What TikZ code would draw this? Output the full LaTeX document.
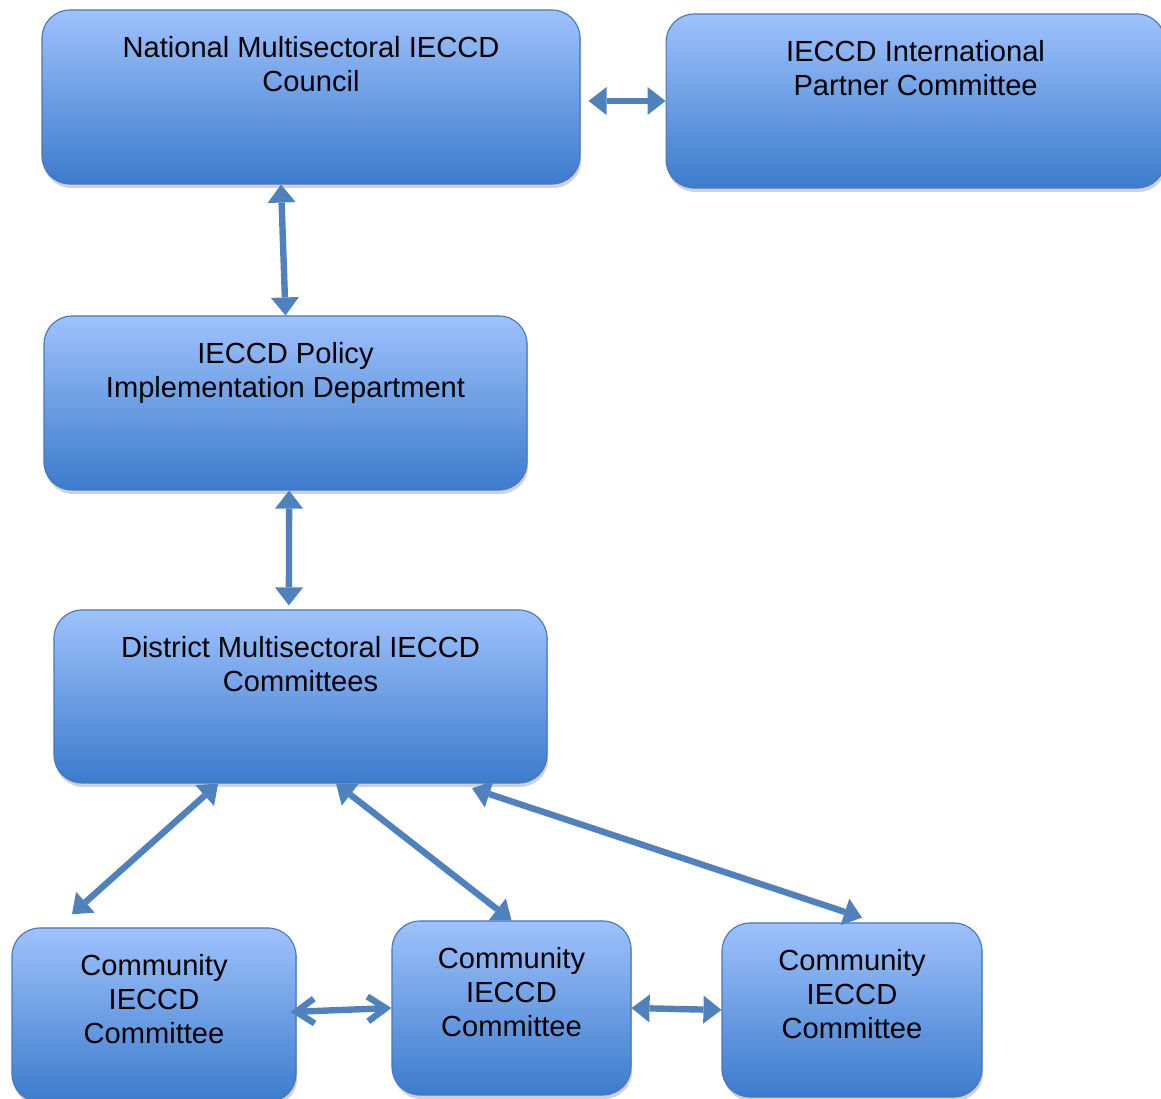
\documentclass[tikz,border=0pt]{standalone}
\usepackage{fontspec}
\setmainfont{Liberation Sans}
\usepackage{tikz}
\usetikzlibrary{arrows.meta}
\usetikzlibrary{shadows}

\definecolor{boxtop}{RGB}{158,194,252}
\definecolor{boxmid}{RGB}{118,162,232}
\definecolor{boxbot}{RGB}{60,123,204}
\definecolor{boxline}{RGB}{70,120,190}
\definecolor{linkblue}{RGB}{79,129,189}

\newcommand{\boxtext}[3]{\parbox[c][#2][t]{#1}{\centering\vspace*{0.65cm}#3}}

\begin{document}
\begin{tikzpicture}[>={Triangle[length=0.45cm,width=0.7cm,line width=0pt]},
	unit/.style={draw=boxline, line width=0.8pt, rounded corners=0.7cm, inner sep=0pt,
		top color=boxtop, middle color=boxmid, bottom color=boxbot,
		drop shadow={shadow xshift=0.03cm, shadow yshift=-0.1cm, opacity=0.3, fill=black!60},
		font=\fontsize{20.7}{24.2}\selectfont},
	link/.style={<->, draw=linkblue, line width=0.16cm},
	barb/.style={{Straight Barb[length=0.45cm,width=0.62cm]}-{Straight Barb[length=0.45cm,width=0.62cm]}}]
	\useasboundingbox (0,0) rectangle (29.025,27.475);

	% National level
	% --------------
	\node[unit] (Council) at (7.775,25.05)
		{\boxtext{13.45cm}{4.35cm}{National Multisectoral IECCD\\Council}};
	\node[unit] (Partner) at (22.89,24.95)
		{\boxtext{12.475cm}{4.35cm}{IECCD International\\Partner Committee}};
	\node[unit] (Policy) at (7.1375,17.4)
		{\boxtext{12.075cm}{4.35cm}{IECCD Policy\\Implementation Department}};

	% District level
	% --------------
	\node[unit] (District) at (7.5125,10.0625)
		{\boxtext{12.325cm}{4.325cm}{District Multisectoral IECCD\\Committees}};

	% Community level
	% ---------------
	\node[unit] (ComA) at (3.85,2.1)
		{\boxtext{7.1cm}{4.35cm}{Community\\IECCD\\Committee}};
	\node[unit] (ComB) at (12.7875,2.275)
		{\boxtext{5.975cm}{4.35cm}{Community\\IECCD\\Committee}};
	\node[unit] (ComC) at (21.3,2.225)
		{\boxtext{6.5cm}{4.35cm}{Community\\IECCD\\Committee}};

	% kapcsolatok
	\draw [link] ([shift={(0.2,-0.1)}]Council.east) -- (Partner.west);
	\draw [link] ([xshift=-0.75cm]Council.south) -- (Policy.north);
	\draw [link] ([xshift=0.09cm]Policy.south) -- ([shift={(-0.29,0.1)}]District.north);
	\draw [link] ([xshift=-2.06cm]District.south) -- ([shift={(-2.05,0.33)}]ComA.north);
	\draw [link] ([xshift=0.89cm]District.south) -- (ComB.north);
	\draw [link] ([shift={(4.29,-0.12)}]District.south) -- ([shift={(0.25,0.12)}]ComC.north);
	\draw [link,barb] ([shift={(-0.15,0.075)}]ComA.east) -- (ComB.west);
	\draw [link] (ComB.east) -- (ComC.west);

\end{tikzpicture}
\end{document}
